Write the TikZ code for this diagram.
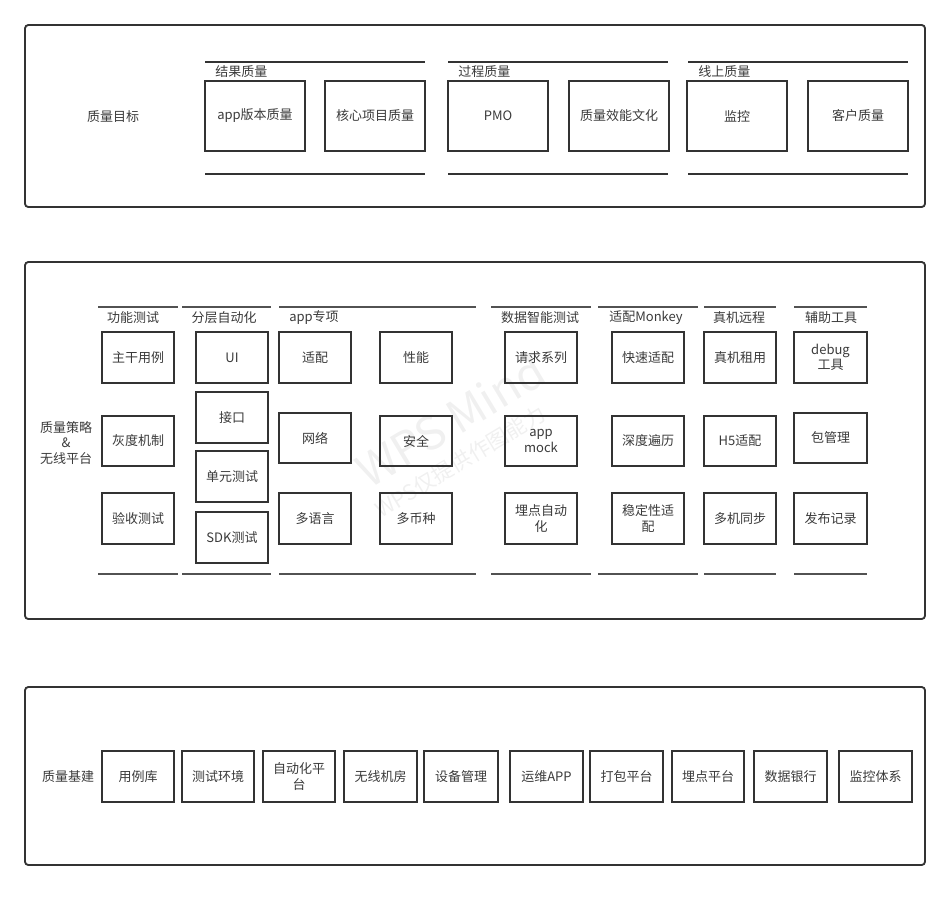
\documentclass[tikz,border=0pt]{standalone}
\usepackage{fontspec}
\setmainfont{Noto Sans CJK SC}
\usetikzlibrary{positioning}
\definecolor{ink}{HTML}{333333}
\definecolor{txt}{HTML}{3A3A3A}
\definecolor{wm}{HTML}{F0F0F0}
\tikzset{
  panel/.style={draw=ink, line width=1.4pt, rounded corners=2.5pt},
  box/.style={draw=ink, line width=1.5pt, inner sep=0pt, align=center, text=txt,
    font=\fontsize{9.75}{11.5}\selectfont},
  grpline/.style={draw=ink, line width=2pt},
  grpline2/.style={draw=ink!85, line width=1.3pt},
  lbl/.style={inner sep=0pt, text=txt, align=center, font=\fontsize{9.75}{11.5}\selectfont},
  wmark/.style={inner sep=0pt, text=wm, rotate=31}
}
\newcommand{\bx}[6]{%
  \node[box, minimum width={(#4-#2)*0.75pt}, minimum height={(#5-#3)*0.75pt}]
    (#1) at ({(#2+#4)/2},{(#3+#5)/2}) {#6};}
\begin{document}
\begin{tikzpicture}[x=0.75pt, y=-0.75pt]
\useasboundingbox (0,0) rectangle (950,904);
% watermark
\node[wmark, font=\fontsize{34}{34}\selectfont] (wm1) at (450,420) {WPS Mind};
\node[wmark, font=\fontsize{16}{16}\selectfont] (wm2) at (460,462) {WPS仅提供作图能力};

% ---------- panel 1 ----------
\draw[panel] (25,25) rectangle (925,207);
\node[lbl] (goal) at (113,117) {质量目标};
\foreach \a/\b in {205/425, 448/668, 688/908}{
  \draw[grpline] (\a,62) -- (\b,62);
  \draw[grpline] (\a,174) -- (\b,174);
}
\node[lbl, anchor=west] (g1) at (215,72) {结果质量};
\node[lbl, anchor=west] (g2) at (458,72) {过程质量};
\node[lbl, anchor=west] (g3) at (698,72) {线上质量};
\bx{a1}{205}{81}{305}{151}{app版本质量}
\bx{a2}{325}{81}{425}{151}{核心项目质量}
\bx{a3}{448}{81}{548}{151}{PMO}
\bx{a4}{569}{81}{669}{151}{质量效能文化}
\bx{a5}{687}{81}{787}{151}{监控}
\bx{a6}{808}{81}{908}{151}{客户质量}

% ---------- panel 2 ----------
\draw[panel] (25,262) rectangle (925,619);
\node[lbl] (strat) at (66,443) {质量策略\\\&\\无线平台};
\foreach \a/\b in {98/178, 182/271, 279/476, 491/591, 598/698, 704/776, 794/867}{
  \draw[grpline2] (\a,307) -- (\b,307);
  \draw[grpline2] (\a,574) -- (\b,574);
}
\node[lbl] (h1) at (133,318) {功能测试};
\node[lbl] (h2) at (224,318) {分层自动化};
\node[lbl] (h3) at (314,318) {app专项};
\node[lbl] (h4) at (540,318) {数据智能测试};
\node[lbl] (h5) at (646,318) {适配Monkey};
\node[lbl] (h6) at (739,318) {真机远程};
\node[lbl] (h7) at (831,318) {辅助工具};

\bx{b1}{102}{332}{174}{383}{主干用例}
\bx{b2}{102}{416}{174}{466}{灰度机制}
\bx{b3}{102}{493}{174}{544}{验收测试}

\bx{c1}{196}{332}{268}{383}{UI}
\bx{c2}{196}{392}{268}{443}{接口}
\bx{c3}{196}{451}{268}{502}{单元测试}
\bx{c4}{196}{512}{268}{563}{SDK测试}

\bx{d1}{279}{332}{351}{383}{适配}
\bx{d2}{380}{332}{452}{383}{性能}
\bx{d3}{279}{413}{351}{463}{网络}
\bx{d4}{380}{416}{452}{466}{安全}
\bx{d5}{279}{493}{351}{544}{多语言}
\bx{d6}{380}{493}{452}{544}{多币种}

\bx{e1}{505}{332}{577}{383}{请求系列}
\bx{e2}{505}{416}{577}{466}{app\\mock}
\bx{e3}{505}{493}{577}{544}{埋点自动\\化}

\bx{f1}{612}{332}{684}{383}{快速适配}
\bx{f2}{612}{416}{684}{466}{深度遍历}
\bx{f3}{612}{493}{684}{544}{稳定性适\\配}

\bx{g1b}{704}{332}{776}{383}{真机租用}
\bx{g2b}{704}{416}{776}{466}{H5适配}
\bx{g3b}{704}{493}{776}{544}{多机同步}

\bx{k1}{794}{332}{867}{383}{debug\\工具}
\bx{k2}{794}{413}{867}{463}{包管理}
\bx{k3}{794}{493}{867}{544}{发布记录}

% ---------- panel 3 ----------
\draw[panel] (25,687) rectangle (925,865);
\node[lbl] (base) at (68,777) {质量基建};
\bx{m1}{102}{751}{174}{802}{用例库}
\bx{m2}{182}{751}{254}{802}{测试环境}
\bx{m3}{263}{751}{335}{802}{自动化平\\台}
\bx{m4}{344}{751}{417}{802}{无线机房}
\bx{m5}{424}{751}{498}{802}{设备管理}
\bx{m6}{510}{751}{583}{802}{运维APP}
\bx{m7}{590}{751}{663}{802}{打包平台}
\bx{m8}{672}{751}{744}{802}{埋点平台}
\bx{m9}{754}{751}{827}{802}{数据银行}
\bx{m10}{839}{751}{912}{802}{监控体系}
\end{tikzpicture}
\end{document}
